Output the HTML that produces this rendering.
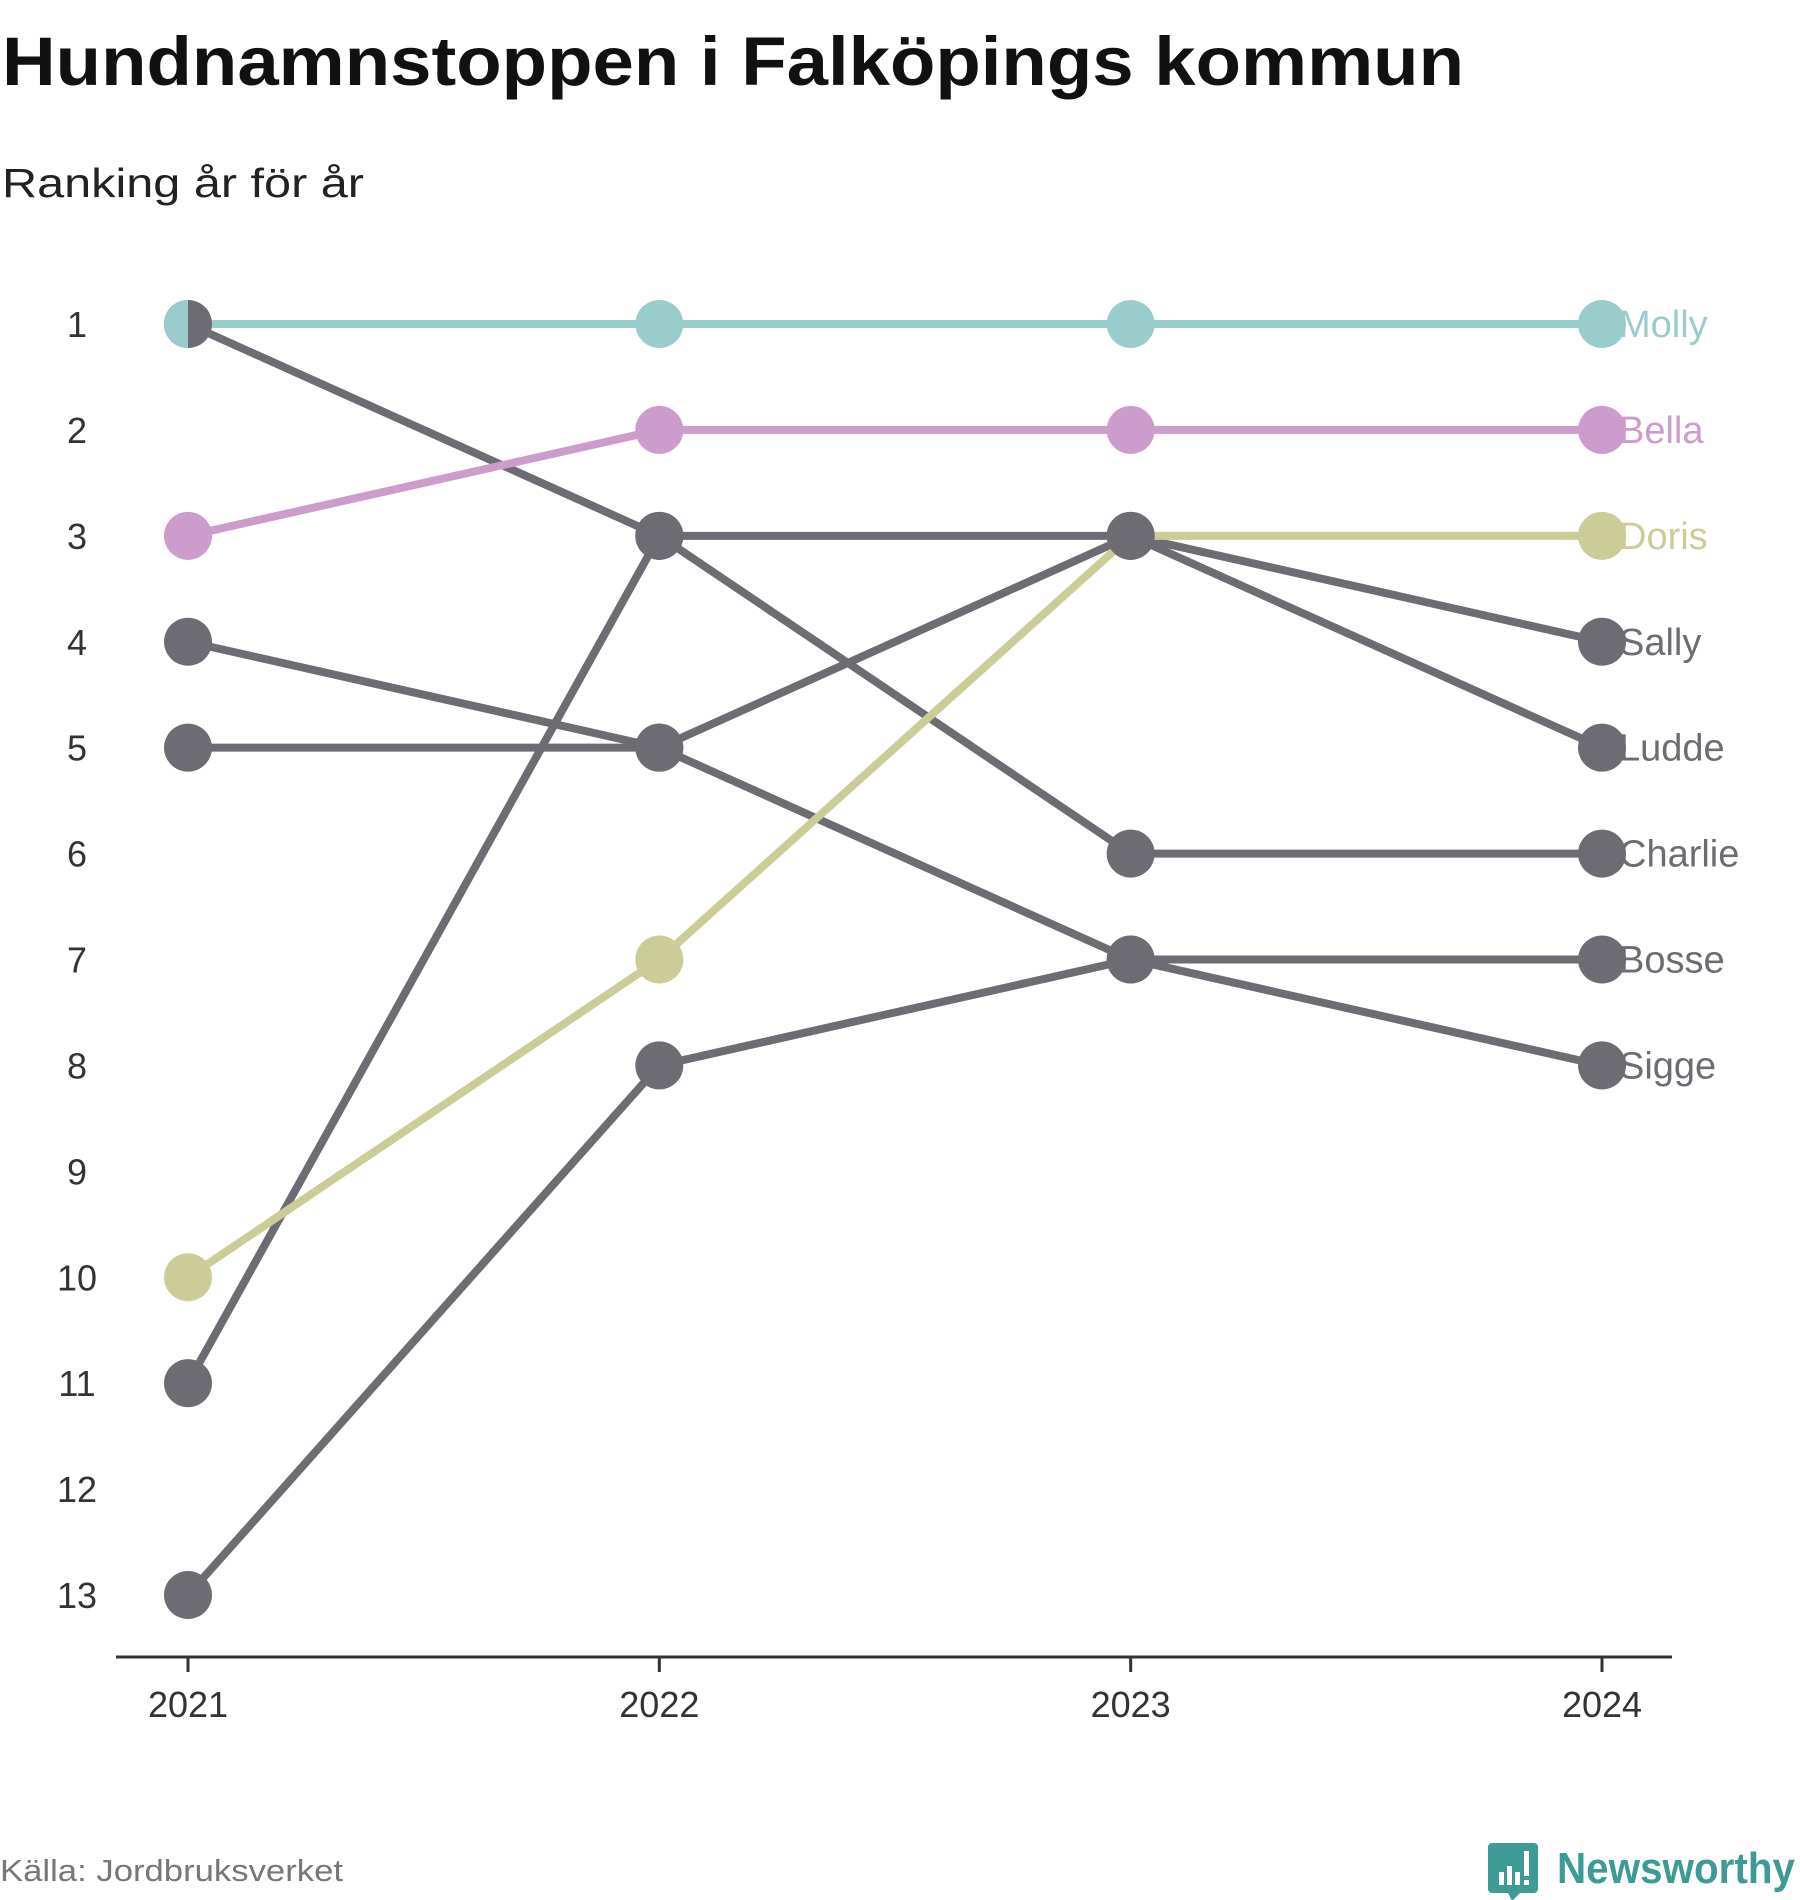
<!DOCTYPE html>
<html><head><meta charset="utf-8"><style>
html,body{margin:0;padding:0;background:#fff;width:1800px;height:1900px;overflow:hidden}
text{font-family:"Liberation Sans",sans-serif}
</style></head><body>
<svg id="chart" width="1800" height="1900" viewBox="0 0 1800 1900" xmlns="http://www.w3.org/2000/svg">
<text x="2" y="85" font-size="69" font-weight="bold" fill="#111" textLength="1462" lengthAdjust="spacingAndGlyphs">Hundnamnstoppen i Falköpings kommun</text>
<text x="2" y="197" font-size="41" fill="#222" textLength="362" lengthAdjust="spacingAndGlyphs">Ranking år för år</text>
<g id="plot"></g>
<text x="0" y="1881" font-size="31" fill="#777" textLength="343" lengthAdjust="spacingAndGlyphs">Källa: Jordbruksverket</text>
<g>
<path d="M1492 1843 h42 a4 4 0 0 1 4 4 v42 a4 4 0 0 1 -4 4 h-14 l-8 8 l-4 -8 h-16 a4 4 0 0 1 -4 -4 v-42 a4 4 0 0 1 4 -4z" fill="#3d9a94"/>
<rect x="1499" y="1872" width="5" height="13" fill="#fff"/><rect x="1507" y="1866" width="5" height="19" fill="#fff"/><rect x="1515" y="1872" width="5" height="13" fill="#fff"/><rect x="1524" y="1851" width="5" height="25" fill="#fff"/><rect x="1524" y="1880" width="5" height="5" fill="#fff"/>
<text x="1557" y="1883" font-size="44" font-weight="bold" fill="#3d9a94" textLength="238" lengthAdjust="spacingAndGlyphs">Newsworthy</text>
</g>
</svg>
<script>
const years = ["2021","2022","2023","2024"];
const names = ["Charlie","Sally","Sigge","Ludde","Bosse","Doris","Bella","Molly"];
const rankCharlie = [1,3,6,6];
const rankSally = [11,3,3,4];
const rankSigge = [4,5,7,8];
const rankLudde = [5,5,3,5];
const rankBosse = [13,8,7,7];
const rankDoris = [10,7,3,3];
const rankBella = [3,2,2,2];
const rankMolly = [1,1,1,1];
const yTicks = [1,2,3,4,5,6,7,8,9,10,11,12,13];

const series = [rankCharlie,rankSally,rankSigge,rankLudde,rankBosse,rankDoris,rankBella,rankMolly];
const colors = {Molly:"#9acccc",Bella:"#cc9ccc",Doris:"#cccc99"};
const NS="http://www.w3.org/2000/svg";
const plot=document.getElementById('plot');
const x0=188,x1=1602,y0=324,y1=1595;
function xs(i){return x0+(x1-x0)*i/(years.length-1);}
function ys(r){return y0+(y1-y0)*(r-1)/12;}
function mk(t,a){const e=document.createElementNS(NS,t);for(const k in a)e.setAttribute(k,a[k]);plot.appendChild(e);return e;}
yTicks.forEach(r=>{const t=mk('text',{x:77,y:ys(r)+13,'font-size':36,'text-anchor':'middle',fill:'#333'});t.textContent=r;

});
const ax=mk('line',{x1:116,x2:1672,y1:1657,y2:1657,stroke:'#333','stroke-width':3});


years.forEach((y,i)=>{const tk=mk('line',{x1:xs(i),x2:xs(i),y1:1657,y2:1672,stroke:'#333','stroke-width':3});


const t=mk('text',{x:xs(i),y:1717,'font-size':36,'text-anchor':'middle',fill:'#333'});t.textContent=y;

});
series.forEach((s,k)=>{const c=colors[names[k]]||'#6d6c73';
const pl=mk('polyline',{points:s.map((r,i)=>xs(i)+','+ys(r)).join(' '),fill:'none',stroke:c,'stroke-width':8,'stroke-linejoin':'round'});

});
const order=[7,6,5,0,1,2,3,4];
order.forEach(k=>{const s=series[k];const c=colors[names[k]]||'#6d6c73';
s.forEach((r,i)=>{const p=mk('circle',{cx:xs(i),cy:ys(r),r:24,fill:c});

});});
const hc=mk('path',{d:`M${xs(0)} ${ys(rankMolly[0])-24} A24 24 0 0 0 ${xs(0)} ${ys(rankMolly[0])+24} Z`,fill:colors.Molly});


series.forEach((s,k)=>{const c=colors[names[k]]||'#6d6c73';
const t=mk('text',{x:x1+17,y:ys(s[3])+13,'font-size':38,fill:c});t.textContent=names[k];

});
</script>
</body></html>
